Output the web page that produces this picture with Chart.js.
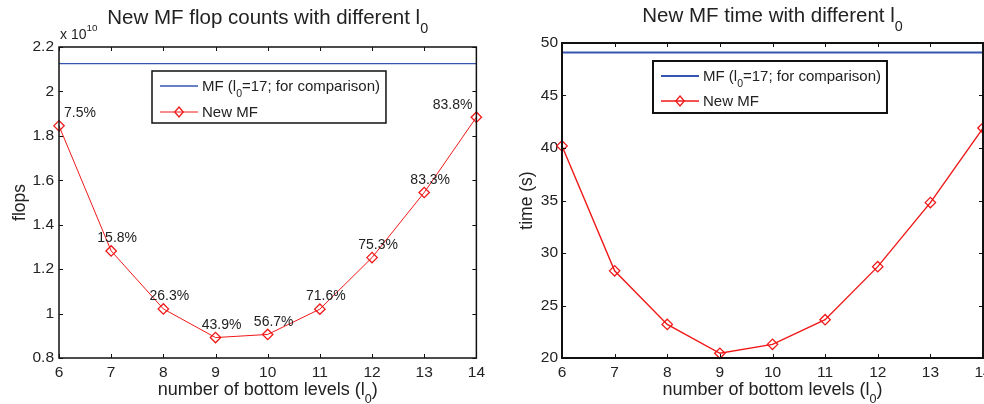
<!DOCTYPE html>
<html>
<head>
<meta charset="utf-8">
<script src="https://cdn.jsdelivr.net/npm/chart.js@4"></script>
<style>
  html, body { margin: 0; padding: 0; background: #fff; overflow: hidden; width: 984px; height: 404px; }
  canvas { position: absolute; top: 0; }
  #flopChart { left: 0; }
  #timeChart { left: 490px; }
</style>
</head>
<body>
<canvas id="flopChart" width="490" height="404"></canvas>
<canvas id="timeChart" width="520" height="404"></canvas>
<script>
// bottom levels l0
var levels = [6, 7, 8, 9, 10, 11, 12, 13, 14];
// flop counts, in units of 10^10
var flops = [1.845, 1.282, 1.021, 0.892, 0.906, 1.02, 1.252, 1.545, 1.884];
var flopPercent = ['7.5%', '15.8%', '26.3%', '43.9%', '56.7%', '71.6%', '75.3%', '83.3%', '83.8%'];
var mfFlops = 2.125;
// time in seconds
var times = [40.2, 28.3, 23.2, 20.45, 21.3, 23.65, 28.7, 34.8, 41.9];
var mfTime = 49.1;
var flopTicks = { min: 0.8, max: 2.2, step: 0.2 };
var timeTicks = { min: 20, max: 50, step: 5 };
var levelTicks = { min: 6, max: 14, step: 1 };

var FONT = '"Liberation Sans", Arial, Helvetica, sans-serif';
var TEXT = '#222';
var RED = '#f01818';
var BLUE = '#3556b0';

Chart.defaults.font.family = FONT;
Chart.defaults.color = TEXT;

// text made of pieces, [text, 0] normal, [text, 1] subscript, [text, 2] superscript
function richWidth(ctx, parts, size) {
  var w = 0;
  parts.forEach(function(p) {
    ctx.font = (p[1] ? size * 0.7 : size) + 'px ' + FONT;
    w += ctx.measureText(p[0]).width;
  });
  return w;
}

function richText(ctx, parts, x, y, size, align) {
  var w = richWidth(ctx, parts, size);
  var cx = align === 'center' ? x - w / 2 : x;
  ctx.textAlign = 'left';
  ctx.textBaseline = 'alphabetic';
  parts.forEach(function(p) {
    ctx.font = (p[1] ? size * 0.7 : size) + 'px ' + FONT;
    var dy = p[1] === 1 ? size * 0.42 : (p[1] === 2 ? -size * 0.55 : 0);
    ctx.fillText(p[0], cx, y + dy);
    cx += ctx.measureText(p[0]).width;
  });
}

function diamond(ctx, x, y, r) {
  ctx.beginPath();
  ctx.moveTo(x, y - r);
  ctx.lineTo(x + r * 0.85, y);
  ctx.lineTo(x, y + r);
  ctx.lineTo(x - r * 0.85, y);
  ctx.closePath();
  ctx.stroke();
}

var decor = {
  id: 'decor',
  afterDraw: function(chart, args, opts) {
    var ctx = chart.ctx;
    var a = chart.chartArea;
    var xs = chart.scales.x, ys = chart.scales.y;
    ctx.save();

    // frame with inward ticks on all sides
    ctx.strokeStyle = '#111';
    ctx.lineWidth = opts.frameWidth;
    ctx.strokeRect(a.left, a.top, a.right - a.left, a.bottom - a.top);
    ctx.lineWidth = 1;
    ctx.beginPath();
    xs.ticks.forEach(function(t) {
      var px = Math.round(xs.getPixelForValue(t.value)) + 0.5;
      ctx.moveTo(px, a.bottom); ctx.lineTo(px, a.bottom - 4);
      ctx.moveTo(px, a.top); ctx.lineTo(px, a.top + 4);
    });
    ys.ticks.forEach(function(t) {
      var py = Math.round(ys.getPixelForValue(t.value)) + 0.5;
      ctx.moveTo(a.left, py); ctx.lineTo(a.left + 4, py);
      ctx.moveTo(a.right, py); ctx.lineTo(a.right - 4, py);
    });
    ctx.stroke();

    ctx.fillStyle = TEXT;
    var cx = (a.left + a.right) / 2;
    richText(ctx, opts.title, cx, a.top + opts.titleDy, 20.5, 'center');
    richText(ctx, [['number of bottom levels (l', 0], ['0', 1], [')', 0]], cx, 395, 18, 'center');

    ctx.save();
    ctx.translate(a.left - opts.yTitleDx, (a.top + a.bottom) / 2);
    ctx.rotate(-Math.PI / 2);
    richText(ctx, [[opts.yTitle, 0]], 0, 6, 17.5, 'center');
    ctx.restore();

    if (opts.exponent) {
      richText(ctx, [['x 10', 0], ['10', 2]], a.left + 1, a.top - 8, 14, 'left');
    }

    // percentage labels next to the points
    if (opts.labels) {
      var meta = chart.getDatasetMeta(1);
      ctx.font = '14px ' + FONT;
      ctx.textAlign = 'left';
      ctx.textBaseline = 'middle';
      meta.data.forEach(function(pt, i) {
        var txt = opts.labels[i];
        var w = ctx.measureText(txt).width;
        var left = pt.x + 6 - w / 2;
        if (left < a.left + 5) left = a.left + 5;
        if (left + w > a.right - 4) left = a.right - 4 - w;
        ctx.fillText(txt, left, pt.y - 12.5);
      });
    }

    // legend box inside the axes
    var bx = a.left + opts.legendDx, by = a.top + opts.legendDy;
    var item1 = [['MF (l', 0], ['0', 1], ['=17; for comparison)', 0]];
    var bw = 50 + richWidth(ctx, item1, 15) + 6;
    ctx.fillStyle = '#fff';
    ctx.fillRect(bx, by, bw, 52);
    ctx.strokeStyle = '#111';
    ctx.lineWidth = opts.frameWidth;
    ctx.strokeRect(bx, by, bw, 52);
    var r1 = by + 15, r2 = by + opts.row2;
    ctx.lineWidth = opts.blueWidth;
    ctx.strokeStyle = BLUE;
    ctx.beginPath(); ctx.moveTo(bx + 8, r1); ctx.lineTo(bx + 46, r1); ctx.stroke();
    ctx.lineWidth = opts.redWidth;
    ctx.strokeStyle = RED;
    ctx.beginPath(); ctx.moveTo(bx + 8, r2); ctx.lineTo(bx + 46, r2); ctx.stroke();
    ctx.lineWidth = 1.3;
    diamond(ctx, bx + 27, r2, 5);
    ctx.fillStyle = TEXT;
    richText(ctx, item1, bx + 50, r1 + 5, 15, 'left');
    richText(ctx, [['New MF', 0]], bx + 50, r2 + 5, 15, 'left');

    ctx.restore();
  }
};

function makeChart(id, values, refValue, yRange, cfg) {
  var ctx = document.getElementById(id).getContext('2d');
  var pts = [];
  for (var i in levels) {
    pts.push({ x: levels[i], y: values[i] });
  }
  return new Chart(ctx, {
    type: 'line',
    data: {
      datasets: [{
        label: 'MF (l0=17; for comparison)',
        data: [{ x: levelTicks.min, y: refValue }, { x: levelTicks.max, y: refValue }],
        borderColor: BLUE,
        borderWidth: cfg.blueWidth,
        pointRadius: 0,
        clip: false
      }, {
        label: 'New MF',
        data: pts,
        borderColor: RED,
        borderWidth: cfg.redWidth,
        pointStyle: 'rectRot',
        pointRadius: 5.2,
        pointBorderWidth: 1.3,
        pointBackgroundColor: 'rgba(0,0,0,0)',
        pointBorderColor: RED,
        clip: false
      }]
    },
    options: {
      responsive: false,
      animation: false,
      events: [],
      layout: { padding: { left: 0, top: cfg.top, right: cfg.right, bottom: 0 } },
      plugins: {
        legend: { display: false },
        title: { display: false },
        tooltip: { enabled: false },
        decor: cfg
      },
      scales: {
        x: {
          type: 'linear',
          min: levelTicks.min,
          max: levelTicks.max,
          grid: { display: false, drawTicks: false },
          border: { display: false },
          ticks: {
            stepSize: levelTicks.step,
            padding: 5,
            color: TEXT,
            font: { size: 15.5 },
            maxRotation: 0,
            callback: function(v) { return String(v); }
          },
          afterFit: function(s) { s.height = 404 - cfg.bottom; }
        },
        y: {
          type: 'linear',
          min: yRange.min,
          max: yRange.max,
          grid: { display: false, drawTicks: false },
          border: { display: false },
          ticks: {
            stepSize: yRange.step,
            padding: cfg.yPad,
            color: TEXT,
            font: { size: 15.5 },
            callback: function(v) { return String(+v.toFixed(2)); }
          },
          afterFit: function(s) { s.width = cfg.left; }
        }
      }
    },
    plugins: [decor]
  });
}

makeChart('flopChart', flops, mfFlops, flopTicks, {
  left: 59, top: 47, right: 13, bottom: 358, yPad: 5,
  title: [['New MF flop counts with different l', 0], ['0', 1]], titleDy: -23,
  yTitle: 'flops', yTitleDx: 40, exponent: true, labels: flopPercent,
  legendDx: 93, legendDy: 24, row2: 41,
  frameWidth: 1.5, blueWidth: 1.3, redWidth: 1
});

makeChart('timeChart', times, mfTime, timeTicks, {
  left: 72, top: 43, right: 27, bottom: 358, yPad: 4,
  title: [['New MF time with different l', 0], ['0', 1]], titleDy: -21,
  yTitle: 'time (s)', yTitleDx: 36, exponent: false, labels: null,
  legendDx: 91, legendDy: 18, row2: 40,
  frameWidth: 2, blueWidth: 2, redWidth: 1.4
});
</script>
</body>
</html>
